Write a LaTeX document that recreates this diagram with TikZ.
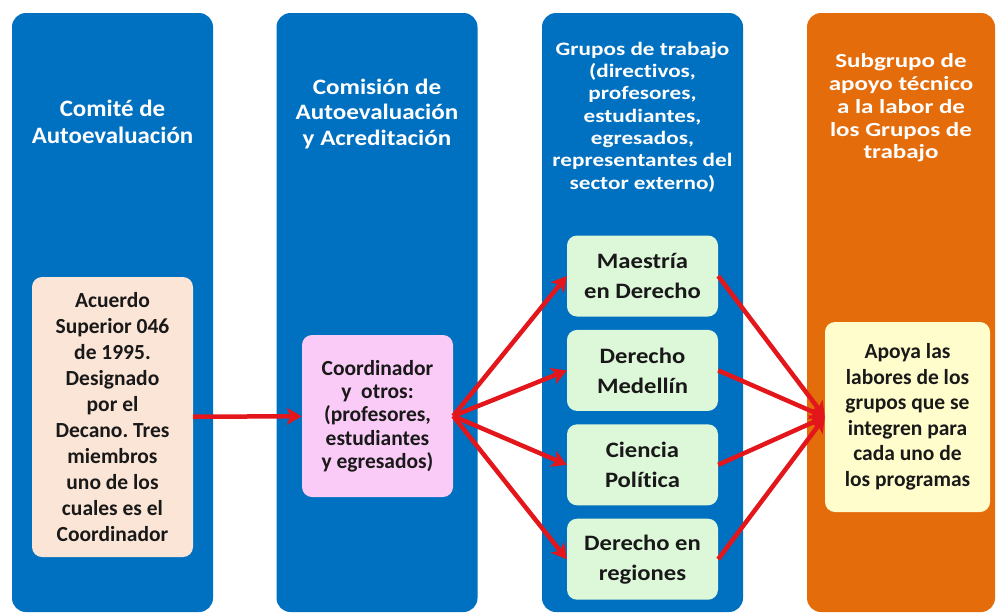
\documentclass[tikz,border=0pt]{standalone}
\usepackage{fontspec}
\setmainfont{Carlito}[Ligatures=NoCommon, RawFeature=-liga]
\newcommand{\ancho}[1]{\addfontfeatures{FakeStretch=#1}}
\usetikzlibrary{positioning,arrows.meta}
\definecolor{azul}{HTML}{0070C0}
\definecolor{naranja}{HTML}{E46C0A}
\definecolor{durazno}{HTML}{FBE5D6}
\definecolor{rosa}{HTML}{FACBF7}
\definecolor{verde}{HTML}{DDF7D9}
\definecolor{crema}{HTML}{FFFDCB}
\definecolor{flecha}{HTML}{E3161B}
\frenchspacing

\begin{document}
\begin{tikzpicture}[x=1pt, y=-1pt,
    columna/.style={rounded corners=14pt, minimum width=201pt, minimum height=599pt, inner sep=0pt},
    titulo/.style={text=white, align=center},
    caja/.style={rounded corners=10pt, inner sep=0pt, align=center, text=black!90,
      font=\bfseries\fontsize{21.5}{26}\selectfont},
    grupo/.style={caja, fill=verde, minimum width=151pt, minimum height=81pt,
      font=\bfseries\ancho{1.12}\fontsize{22}{30}\selectfont},
    flechas/.style={draw=flecha, line width=4.5pt, -{Stealth[length=15pt, width=17pt, inset=4pt]}}]
  \useasboundingbox (0,0) rectangle (999,614);
  % columnas
  \node [columna, fill=azul] (c1) at (112.5,312.5) {};
  \node [columna, fill=azul] (c2) at (377,312.5) {};
  \node [columna, fill=azul] (c3) at (642.5,312.5) {};
  \node [columna, fill=naranja, minimum width=188pt] (c4) at (901,312.5) {};
  % titulos
  \node [titulo, font=\bfseries\ancho{1.06}\fontsize{23.5}{27}\selectfont] (t1) at (112.5,122)
    {Comité de\\Autoevaluación};
  \node [titulo, font=\bfseries\ancho{1.14}\fontsize{22}{25.5}\selectfont] (t2) at (377,114)
    {Comisión de\\Autoevaluación\\y Acreditación};
  \node [titulo, font=\bfseries\ancho{1.22}\fontsize{19}{22.3}\selectfont] (t3) at (642.5,117)
    {Grupos de trabajo\\(directivos,\\profesores,\\estudiantes,\\egresados,\\representantes del\\sector externo)};
  \node [titulo, font=\bfseries\ancho{1.25}\fontsize{20}{22.8}\selectfont] (t4) at (901,108)
    {Subgrupo de\\apoyo técnico\\a la labor de\\los Grupos de\\trabajo};
  % cajas
  \node [caja, fill=durazno, minimum width=161pt, minimum height=280pt] (acuerdo) at (112.5,417)
    {Acuerdo\\Superior 046\\de 1995.\\Designado\\por el\\Decano. Tres\\miembros\\uno de los\\cuales es el\\Coordinador};
  \node [caja, fill=rosa, minimum width=151pt, minimum height=162pt,
    font=\bfseries\fontsize{21.5}{23.3}\selectfont] (coord) at (377.5,416)
    {Coordinador\\y\ \ otros:\\(profesores,\\estudiantes\\y egresados)};
  \node [grupo] (maestria) at (642.5,276) {Maestría\\en Derecho};
  \node [grupo, below=13pt of maestria] (medellin) {Derecho\\Medellín};
  \node [grupo, below=13pt of medellin] (ciencia) {Ciencia\\Política};
  \node [grupo, below=13pt of ciencia] (regiones) {Derecho en\\regiones};
  \node [caja, fill=crema, minimum width=165pt, minimum height=190pt,
    font=\bfseries\fontsize{21.5}{25.5}\selectfont] (apoyo) at (907.5,417)
    {Apoya las\\labores de los\\grupos que se\\integren para\\cada uno de\\los programas};
  % flechas
  \draw [flechas] (acuerdo) -- (coord);
  \foreach \g in {maestria, medellin, ciencia, regiones}{
    \draw [flechas] (coord.east) -- (\g.west);
    \draw [flechas] (\g.east) -- (apoyo.west);
  }
\end{tikzpicture}
\end{document}
